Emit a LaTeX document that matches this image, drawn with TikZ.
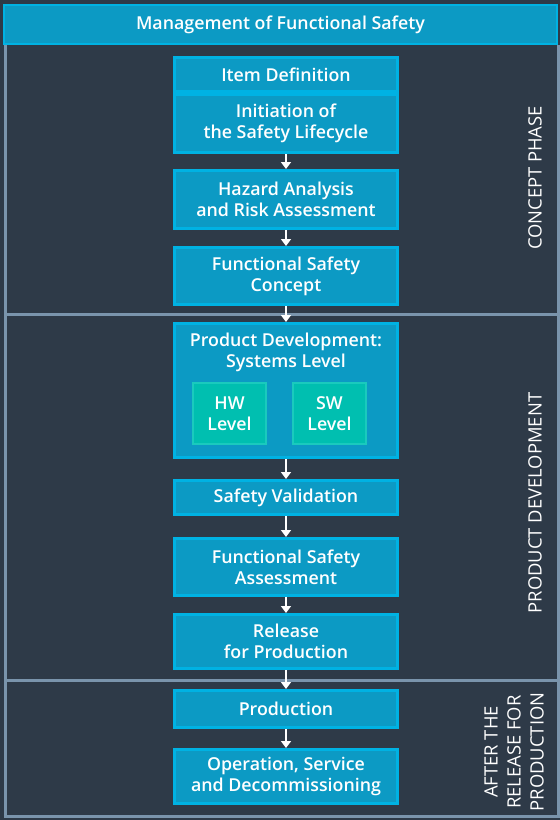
\documentclass[tikz,border=0pt]{standalone}
\usepackage{fontspec}
\setmainfont{Open Sans}
\IfFontExistsTF{Open Sans SemiBold}{\newfontfamily\semib{Open Sans SemiBold}}{%
  \IfFontExistsTF{Open Sans Semibold}{\newfontfamily\semib{Open Sans Semibold}}{%
    \newcommand\semib{\bfseries}}}
\usetikzlibrary{arrows.meta}
\definecolor{darkbg}{HTML}{2E3A48}
\definecolor{framec}{HTML}{7A94AC}
\definecolor{boxfill}{HTML}{0C9AC4}
\definecolor{boxedge}{HTML}{00B2E3}
\definecolor{tealfill}{HTML}{00BFB0}
\definecolor{tealedge}{HTML}{1ACABD}
\tikzset{
  stagebox/.style={fill=boxfill, draw=boxedge, line width=3pt, text=white, align=center,
    minimum width=223pt, inner sep=0pt, font=\semib\fontsize{17.8}{21}\selectfont},
  subbox/.style={fill=tealfill, draw=tealedge, line width=2pt, text=white, align=center,
    minimum width=73pt, minimum height=61pt, inner sep=0pt, font=\semib\fontsize{17.8}{21}\selectfont},
  headbox/.style={fill=boxfill, draw=boxedge, line width=2pt, text=white, align=center,
    minimum width=553pt, minimum height=39pt, inner sep=0pt, font=\semib\fontsize{17.8}{21}\selectfont},
  phaselabel/.style={text=white, rotate=90, align=center, inner sep=0pt,
    font=\fontsize{18.4}{23}\selectfont},
  flow/.style={draw=white, line width=2.5pt, -{Triangle[length=7pt,width=10pt]}},
  sepline/.style={draw=framec, line width=3pt}
}
\begin{document}
\begin{tikzpicture}[x=1pt,y=-1pt]
\useasboundingbox (0,0) rectangle (560,820);
\fill[darkbg] (0,0) rectangle (560,820);
% frame and separators
\draw[sepline] (5,45) -- (5,816) -- (558.5,816) -- (558.5,45);
\draw[sepline] (5,314.5) -- (558.5,314.5);
\draw[sepline] (5,680) -- (558.5,680);
% header
\node[headbox] (mfs) at (280.5,24.5) {Management of Functional Safety};
% concept phase
\node[stagebox, minimum height=34pt] (item) at (286,74.5) {Item Definition};
\node[stagebox, minimum height=58pt] (init) at (286,123.5) {Initiation of\\the Safety Lifecycle};
\node[stagebox, minimum height=58pt] (hara) at (286,199.5) {Hazard Analysis\\and Risk Assessment};
\node[stagebox, minimum height=57pt] (fsc) at (286,276) {Functional Safety\\Concept};
% product development
\node[stagebox, minimum height=134pt] (pd) at (286,390.5) {};
\node[text=white, align=center, inner sep=0pt, font=\semib\fontsize{17.8}{21}\selectfont] (pdt) at (286,352) {Product Development:\\Systems Level};
\node[subbox] (hw) at (229.5,413.5) {HW\\Level};
\node[subbox] (sw) at (329.5,413.5) {SW\\Level};
\node[stagebox, minimum height=34pt] (sv) at (286,497.5) {Safety Validation};
\node[stagebox, minimum height=57pt] (fsa) at (286,567) {Functional Safety\\Assessment};
\node[stagebox, minimum height=54pt] (rel) at (286,641.5) {Release\\for Production};
% after release
\node[stagebox, minimum height=37pt] (prod) at (286,709) {Production};
\node[stagebox, minimum height=54pt] (ops) at (286,776.5) {Operation, Service\\and Decommissioning};
% arrows
\draw[flow] (init.south) -- (hara.north);
\draw[flow] (hara.south) -- (fsc.north);
\draw[flow] (fsc.south) -- (pd.north);
\draw[flow] (pd.south) -- (sv.north);
\draw[flow] (sv.south) -- (fsa.north);
\draw[flow] (fsa.south) -- (rel.north);
\draw[flow] (rel.south) -- (prod.north);
\draw[flow] (prod.south) -- (ops.north);
% phase labels
\node[phaselabel] (lcp) at (535,178) {CONCEPT PHASE};
\node[phaselabel] (lpd) at (535,503) {PRODUCT DEVELOPMENT};
\node[phaselabel] (lar) at (514,752) {AFTER THE\\RELEASE FOR\\PRODUCTION};
\end{tikzpicture}
\end{document}
